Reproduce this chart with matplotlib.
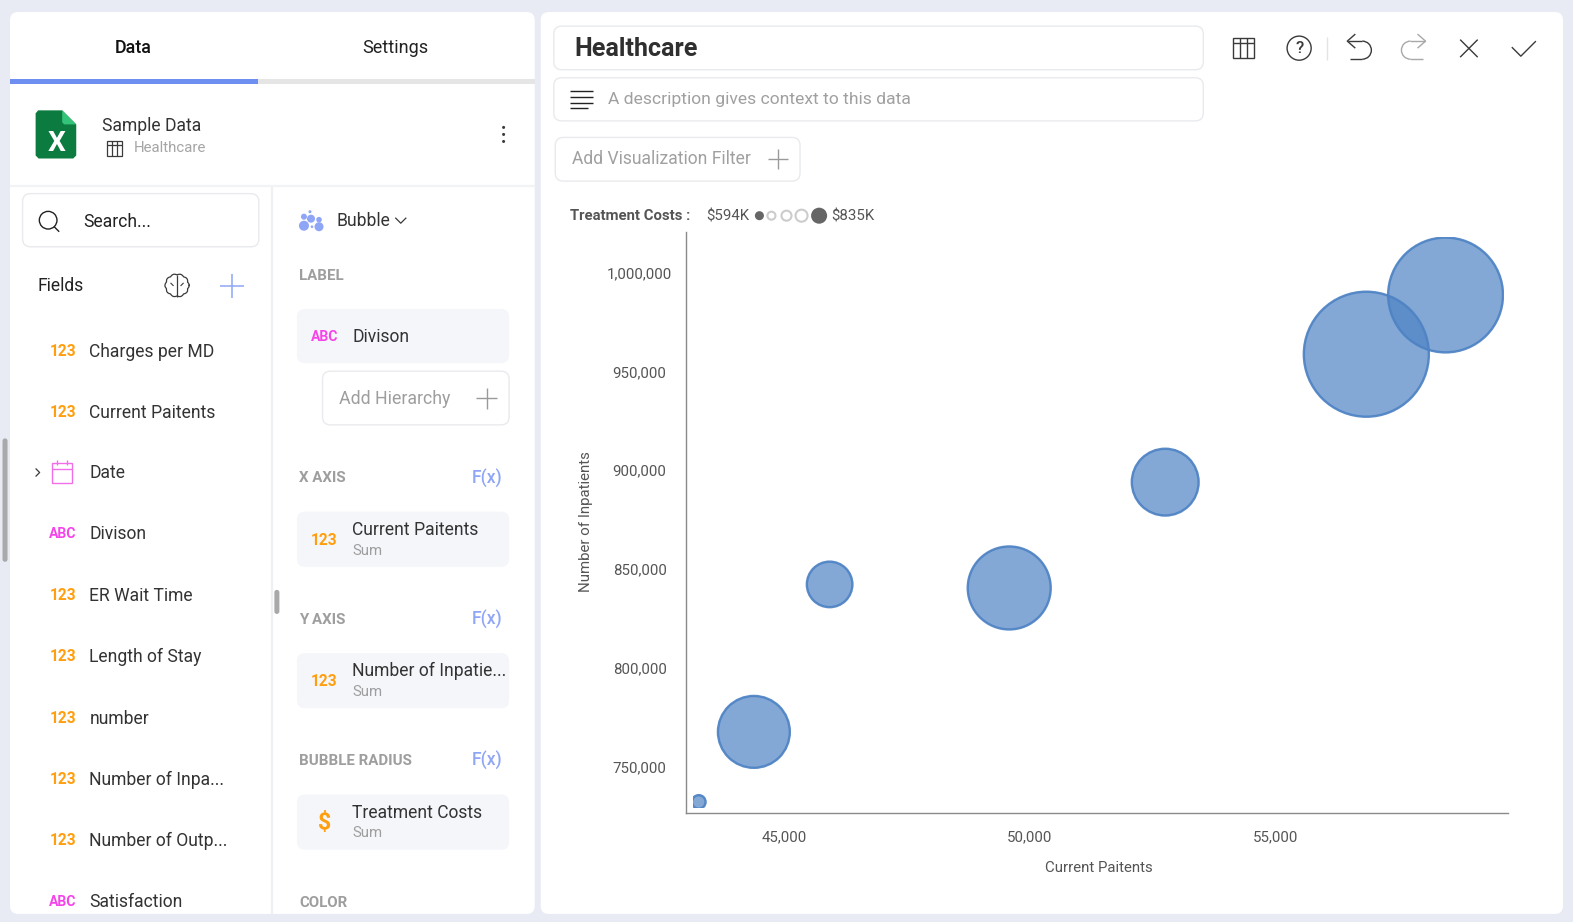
import numpy as np
import matplotlib
matplotlib.use("Agg")
import matplotlib.pyplot as plt
from matplotlib.patches import FancyBboxPatch, Rectangle, Circle, Polygon, Arc

plt.rcParams['font.family'] = ['Roboto', 'DejaVu Sans']

# ---- chart data ----
current_patients = [43252, 44376, 45920, 49581, 52761, 56861, 58476]
inpatients = [732000, 767500, 842200, 840400, 894000, 958800, 988800]
treatment_costs = [594, 720, 663, 744, 709, 835, 813]
x_ticks = [45000, 50000, 55000]
y_ticks = [750000, 800000, 850000, 900000, 950000, 1000000]
legend_labels = ["$594K", "$835K"]

field_names = ["Charges per MD", "Current Paitents", "Date", "Divison", "ER Wait Time",
               "Length of Stay", "number", "Number of Inpa...", "Number of Outp...", "Satisfaction"]
field_types = ["123", "123", "date", "ABC", "123", "123", "123", "123", "123", "ABC"]

W, H = 1573, 922
S = W / 1568
VW, VH = 1568, H / S
fig = plt.figure(figsize=(W / 100, H / 100), dpi=100, facecolor="#E8EBF3")
ui = fig.add_axes([0, 0, 1, 1])
ui.set_xlim(0, VW)
ui.set_ylim(VH, 0)
ui.axis("off")

DARK = "#333333"
GREY = "#9E9E9E"
ORANGE = "#FF9F0F"
MAG = "#F545EA"
BLUE = "#8FA6F7"
CARD = "#F5F6FA"
BORDER = "#E9EAED"
ICON = "#3A3A3A"
BODY = 17.5


def T(x, y, s, px=BODY, color=DARK, weight="normal", ha="left", va="center", **kw):
    return ui.text(x, y + 1.3, s, fontsize=px * 0.72 * S, color=color, fontweight=weight,
                   ha=ha, va=va, **kw)


def box(x0, y0, x1, y1, r=8, fc="white", ec="none", lw=1.0, z=1):
    p = FancyBboxPatch((x0 + r, y0 + r), x1 - x0 - 2 * r, y1 - y0 - 2 * r,
                       boxstyle=f"round,pad={r},rounding_size={r}",
                       fc=fc, ec=ec, lw=lw, zorder=z)
    ui.add_patch(p)
    return p


def L(xs, ys, color=ICON, lw=1.0, z=3, **kw):
    ui.plot(xs, ys, color=color, lw=lw, zorder=z, solid_capstyle="butt", **kw)


def plus(x, y, r, color, lw=1.1):
    L([x - r, x + r], [y, y], color, lw)
    L([x, x], [y - r, y + r], color, lw)


def grid_icon(x, y, w=22, h=20, lw=1.0):
    ui.add_patch(Rectangle((x - w / 2, y - h / 2), w, h, fc="none", ec=ICON, lw=lw, zorder=3))
    L([x - w / 2, x + w / 2], [y - h / 2 + 4.5] * 2, lw=lw)
    for dx in (-w / 6, w / 6):
        L([x + dx, x + dx], [y - h / 2, y + h / 2], lw=lw)


# ---- panels ----
box(10, 12, 533, 911, r=8)
box(539, 12, 1558, 911, r=8)

# ---- tabs ----
T(133, 46.5, "Data", 18, "#111111", "medium", "center")
T(394.5, 46.5, "Settings", 18, "#222222", "normal", "center")
ui.add_patch(Rectangle((257, 79), 276, 5, fc="#E5E5E5", ec="none", zorder=2))
ui.add_patch(Rectangle((10, 79), 247, 5, fc="#6F8EF2", ec="none", zorder=2))

# ---- source header ----
ui.add_patch(Polygon([(38, 110), (62, 110), (76, 124), (76, 155), (73, 158), (38.5, 158), (35.5, 155), (35.5, 113)],
                     closed=True, fc="#0B7B3F", ec="none", zorder=2))
ui.add_patch(Polygon([(62, 110), (76, 124), (64, 124), (62, 122)], closed=True, fc="#35C37A", ec="none", zorder=3))
T(56, 141.5, "X", 28, "white", "bold", "center", zorder=4)
T(101.5, 124, BODY and "Sample Data", BODY, "#333333")
T(133, 146.5, "Healthcare", 15, "#A5A5A5")
grid_icon(114, 148, 15, 15, 0.9)
for yy in (127, 134, 141):
    ui.add_patch(Circle((502, yy), 1.5, fc=ICON, ec="none", zorder=3))
L([10, 533], [185.5, 185.5], "#F2F3F5", 1.6, z=2)
L([271, 271], [186, 911], "#EFF0F2", 1.6, z=2)

# ---- search ----
box(22.5, 193, 258, 246, r=8, ec=BORDER)
ui.add_patch(Circle((48, 219.5), 8.8, fc="none", ec="#222222", lw=1.0, zorder=3))
L([54, 59], [226, 231], "#222222", 1.0)
T(83, 219.5, "Search...", BODY, "#222222")
T(37, 284, "Fields", BODY, "#222222")

# brain icon outline
th = np.linspace(0, 2 * np.pi, 360)
rr = 1 + 0.10 * np.abs(np.cos(5 * th))
ui.plot(176.5 + 11 * rr * np.cos(th), 284.5 + 10.5 * rr * np.sin(th), color=ICON, lw=0.9, zorder=3)
L([176.5, 176.5], [274, 296], lw=0.9)
L([170, 173], [282, 285], lw=0.8)
L([183, 180], [282, 285], lw=0.8)
plus(231, 285, 12, BLUE, 1.1)


def type_tag(x, y, kind):
    if kind == "123":
        T(x, y - 0.5, "123", 15.5, ORANGE, "bold", "center")
    elif kind == "ABC":
        T(x, y - 0.5, "ABC", 14, MAG, "bold", "center")
    elif kind == "$":
        T(x, y - 0.5, "$", 23, ORANGE, "bold", "center")


# ---- field list ----
row_y = [349.5, 410.5, 470.5, 531.5, 592.5, 653.5, 715, 776, 837, 898]
for name, kind, yy in zip(field_names, field_types, row_y):
    T(89, yy, name, BODY, "#333333")
    if kind == "date":
        ui.add_patch(Rectangle((52, yy - 8.5), 20, 19, fc="none", ec="#F06FE8", lw=1.0, zorder=3))
        L([52, 72], [yy - 2.5, yy - 2.5], "#F06FE8", 1.0)
        L([57, 57], [yy - 11.5, yy - 6.5], "#F06FE8", 1.0)
        L([67, 67], [yy - 11.5, yy - 6.5], "#F06FE8", 1.0)
        L([35.5, 39.5, 35.5], [yy - 3.5, yy + 0.5, yy + 4.5], ICON, 0.9)
    else:
        type_tag(62.5, yy, kind)

# scrollbars
box(2.5, 437, 7.5, 560, r=2.5, fc="#A9A9A9", z=3)
box(273.5, 588, 278.5, 612, r=2.5, fc="#A9A9A9", z=3)

# ---- config column ----
for cx, cy, r in [(303, 225, 5), (318, 226, 4.5), (310, 218, 4), (318, 219, 2.8), (303, 216, 3),
                  (309, 211, 1.5), (311, 226, 1.3)]:
    ui.add_patch(Circle((cx, cy), r, fc="#8FA6F7", ec="none", zorder=3))
T(335, 219, "Bubble", BODY, "#333333")
L([394, 399.5, 405], [217, 222.5, 217], ICON, 0.9)


def section(y, s, fx=True):
    T(298.5, y - 0.5, s, 15, GREY, "bold")
    if fx:
        T(486, y - 0.5, "F(x)", 17.5, BLUE, "medium", "center")


def card(y0, y1, kind, main, sub=None):
    box(296, y0, 507.5, y1, r=8, fc=CARD)
    cy = (y0 + y1) / 2
    type_tag(323.5, cy, kind)
    if sub:
        T(351, cy - 10.5, main, BODY, "#333333")
        T(351, cy + 10, sub, 14.8, GREY)
    else:
        T(351, cy - 0.5, main, BODY, "#333333")


section(274, "LABEL", False)
card(308, 362, "ABC", "Divison")
box(321.5, 370, 507.5, 423.5, r=8, ec=BORDER)
T(338, 396, "Add Hierarchy", 17.7, GREY)
plus(485, 397, 10.5, "#9A9A9A", 1.0)
section(476, "X AXIS")
card(510, 565, "123", "Current Paitents", "Sum")
section(617, "Y AXIS")
card(651, 706, "123", "Number of Inpatie...", "Sum")
section(757.5, "BUBBLE RADIUS")
card(792, 847, "$", "Treatment Costs", "Sum")
section(899, "COLOR", False)

# ---- header of the visualisation ----
box(552, 26, 1199.5, 69.5, r=8, ec=BORDER)
T(573, 47.5, "Healthcare", 25, "#2F2F2F", "bold")
box(552, 77.5, 1199.5, 120.5, r=8, ec=BORDER)
for yy, x1 in [(91, 591), (97, 591), (102.5, 591), (108, 586)]:
    L([568, x1], [yy, yy], "#222222", 1.0)
T(606, 98, "A description gives context to this data", 17.4, "#A0A0A0")
box(553.5, 137, 797.5, 180.5, r=8, ec=BORDER)
T(570, 157.5, "Add Visualization Filter", 17.5, "#A0A0A0")
plus(775.5, 158.5, 10, "#9A9A9A", 1.0)

# toolbar
grid_icon(1240, 48, 21, 20, 1.0)
ui.add_patch(Circle((1295, 48), 12, fc="none", ec=ICON, lw=1.0, zorder=3))
T(1295, 47, "?", 17, ICON, "medium", "center")
L([1323, 1323], [37, 60], "#E4E4E4", 1.0)
for x0, col, sgn in [(1355, ICON, 1), (1409, "#A8A8A8", -1)]:
    L([x0 - sgn * 11, x0 + sgn * 3], [41, 41], col, 1.0)
    L([x0 - sgn * 4, x0 - sgn * 12, x0 - sgn * 4], [34, 41, 48], col, 1.0)
    ui.add_patch(Arc((x0 + sgn * 3, 50), 18, 18, theta1=-90 if sgn > 0 else 90,
                     theta2=90 if sgn > 0 else 270, ec=col, lw=1.0, zorder=3))
    L([x0 + sgn * 3, x0 - sgn * 9], [59, 59], col, 1.0)
L([1455.5, 1473], [39.5, 57], ICON, 1.0)
L([1473, 1455.5], [39.5, 57], ICON, 1.0)
L([1507, 1516, 1531], [47, 56, 41], ICON, 1.0)

# size legend
T(568, 214.5, "Treatment Costs :", 14.8, "#555555", "bold")
T(704, 214.5, legend_labels[0], 15, "#555555")
T(829, 214.5, legend_labels[1], 15, "#555555")
for cx, r, filled in [(757, 4.5, True), (769, 5, False), (784, 6, False), (799, 7, False), (816.5, 8, True)]:
    ui.add_patch(Circle((cx, 215), r - (0 if filled else 1), fc="#666666" if filled else "white",
                        ec="none" if filled else "#CCCCCC", lw=1.5, zorder=3))

# ---- chart ----
AX_L, AX_R, AX_T, AX_B = 684, 1503, 231, 810.5
ax = fig.add_axes([AX_L / VW, 1 - AX_B / VH, (AX_R - AX_L) / VW, (AX_B - AX_T) / VH], facecolor="none")
px_x = 48.9 / 1000
px_y = 98.4 / 50000
ax.set_xlim(45000 - (782 - AX_L) / px_x, 45000 + (AX_R - 782) / px_x)
ax.set_ylim(750000 - (AX_B - 764) / px_y, 750000 + (764 - AX_T) / px_y)

costs = np.array(treatment_costs, dtype=float)
radius_px = 7.5 + (costs - costs.min()) * (63 - 7.5) / (costs.max() - costs.min())
sizes = (2 * (radius_px - 0.7) * S * 0.72) ** 2
sc = ax.scatter(current_patients, inpatients, s=sizes, facecolor=(0.306, 0.514, 0.769, 0.70),
                edgecolor=(0.30, 0.51, 0.77, 0.92), linewidth=2.4 * 0.72 * S, zorder=3)
clip = Rectangle(((691 - AX_L) / (AX_R - AX_L), (AX_B - 805) / (AX_B - AX_T)),
                 (1499.5 - 691) / (AX_R - AX_L), (805 - 236) / (AX_B - AX_T), transform=ax.transAxes)
sc.set_clip_path(clip)

for side in ("top", "right"):
    ax.spines[side].set_visible(False)
for side in ("left", "bottom"):
    ax.spines[side].set_color("#8A8A8A")
    ax.spines[side].set_linewidth(1.0)
ax.set_xticks(x_ticks)
ax.set_xticklabels([f"{v:,}" for v in x_ticks])
ax.set_yticks(y_ticks)
ax.set_yticklabels([f"{v:,}" for v in y_ticks])
tick_pt = 15 * 0.72 * S
ax.tick_params(axis="x", length=0, pad=12.7, labelsize=tick_pt, labelcolor="#555555")
ax.tick_params(axis="y", length=0, pad=33.5, labelsize=tick_pt, labelcolor="#555555")
for lab in ax.get_yticklabels():
    lab.set_ha("center")
ax.set_xlabel("Current Paitents", fontsize=tick_pt, color="#555555", labelpad=0)
ax.xaxis.set_label_coords((1095 - AX_L) / (AX_R - AX_L), -(865 - AX_B) / (AX_B - AX_T))
ax.xaxis.label.set_va("center")
ax.set_ylabel("Number of Inpatients", fontsize=tick_pt, color="#555555", labelpad=0)
ax.yaxis.set_label_coords(-(AX_L - 584.5) / (AX_R - AX_L), (AX_B - 520) / (AX_B - AX_T))
ax.yaxis.label.set_va("center")

fig.savefig("out.png", dpi=100, facecolor=fig.get_facecolor())
